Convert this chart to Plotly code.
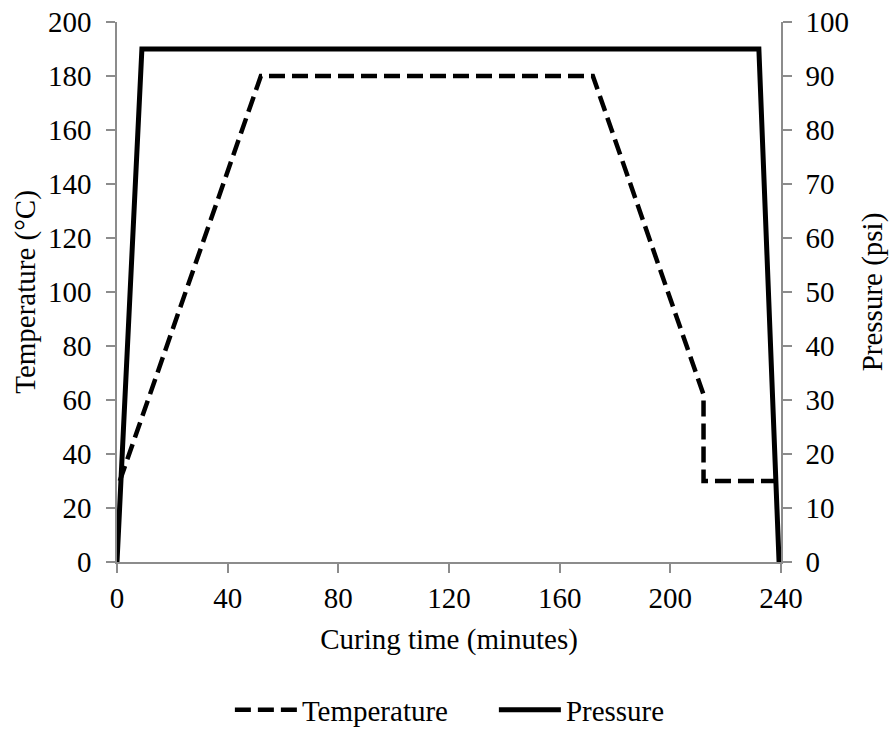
import plotly.graph_objects as go

# Cure cycle profile
temp_time = [1, 52, 172, 212, 212, 238]
temp_c = [30, 180, 180, 62, 30, 30]

press_time = [0, 9, 232, 239.3]
press_psi = [0, 95, 95, 0]

x_ticks = [0, 40, 80, 120, 160, 200, 240]
left_ticks = list(range(0, 201, 20))
right_ticks = list(range(0, 101, 10))

font_family = "Liberation Serif"
axis_color = "#8c8c8c"
fs = 29

fig = go.Figure()
fig.add_trace(go.Scatter(
    x=temp_time, y=temp_c, mode="lines", name="Temperature",
    line=dict(color="black", width=4.5, dash="16px,7px"),
))
fig.add_trace(go.Scatter(
    x=press_time, y=press_psi, mode="lines", name="Pressure", yaxis="y2",
    line=dict(color="black", width=5),
))

axis_common = dict(
    showgrid=False, zeroline=False,
    showline=True, linecolor=axis_color, linewidth=1.5,
    ticks="outside", tickcolor=axis_color, ticklen=9, tickwidth=1.5,
    tickfont=dict(family=font_family, size=fs, color="black"),
    automargin=False,
)

fig.update_layout(
    width=895, height=730,
    margin=dict(l=117, r=114, t=22, b=168, autoexpand=False),
    paper_bgcolor="white", plot_bgcolor="white",
    font=dict(family=font_family, size=fs, color="black"),
    showlegend=True,
    legend=dict(orientation="h", x=0.17, xanchor="left", y=-0.274, yanchor="middle",
                itemwidth=62, entrywidth=187,
                font=dict(family=font_family, size=fs), traceorder="normal"),
    xaxis=dict(
        range=[0, 240], tickvals=x_ticks,
        title=dict(text="Curing time (minutes)", standoff=16,
                   font=dict(family=font_family, size=fs)),
        **axis_common,
    ),
    yaxis=dict(
        range=[0, 200], tickvals=left_ticks, ticklabelstandoff=9,
        title=dict(text="Temperature (°C)", standoff=4,
                   font=dict(family=font_family, size=fs)),
        **axis_common,
    ),
    yaxis2=dict(
        range=[0, 100], tickvals=right_ticks, overlaying="y", side="right",
        ticklabelstandoff=8,
        title=dict(text="Pressure (psi)", standoff=14,
                   font=dict(family=font_family, size=fs)),
        **axis_common,
    ),
)

fig.write_html("out.html")
